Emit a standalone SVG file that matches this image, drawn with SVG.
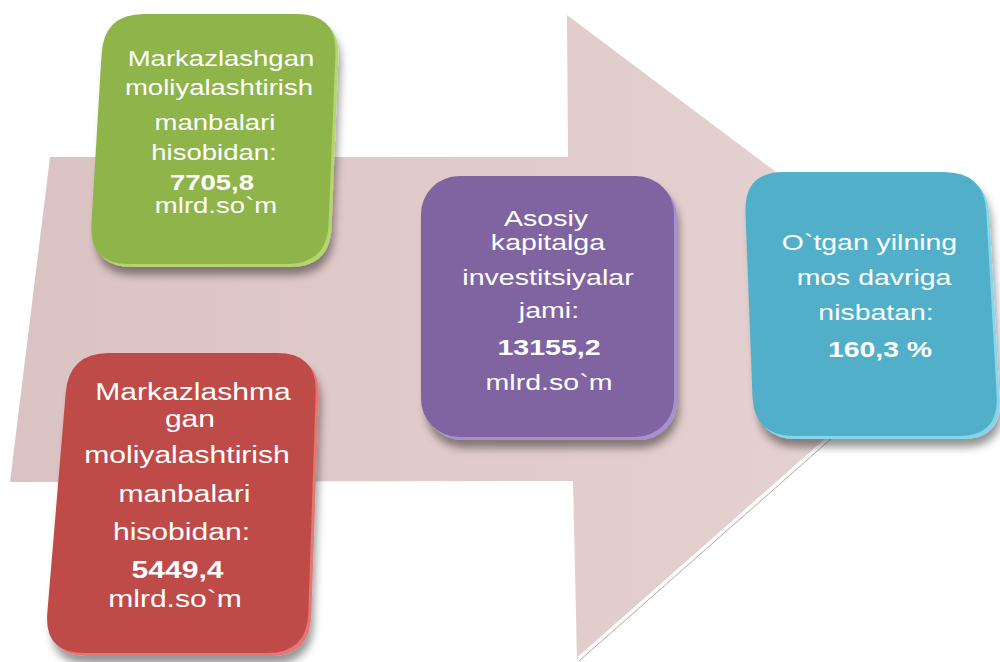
<svg xmlns="http://www.w3.org/2000/svg" width="1000" height="662" viewBox="0 0 1000 662">
  <defs>
    <linearGradient id="arrowGrad" x1="0" y1="0" x2="1" y2="0">
      <stop offset="0" stop-color="#dcc3c3"/>
      <stop offset="1" stop-color="#e6d3d3"/>
    </linearGradient>
    <filter id="shadow" x="-20%" y="-20%" width="140%" height="140%">
      <feDropShadow dx="2" dy="8" stdDeviation="4" flood-color="#000" flood-opacity="0.42"/>
    </filter>
    <path id="greenShape" d="M145,15 L298,15 Q338,15 336.4,55 L329.6,225 Q328,265 288,265 L130,265 Q90,265 92.4,225 L102.6,55 Q105,15 145,15 Z"/>
    <path id="redShape" d="M110,354 L278,354 Q318,354 316.7,394 L309.3,614 Q308,654 268,654 L85,654 Q45,654 48.3,614 L66.7,394 Q70,354 110,354 Z"/>
    <rect id="purpleShape" x="422" y="177" width="253" height="261" rx="38" ry="38"/>
    <path id="cyanShape" d="M785,173 L945,173 Q985,173 987.3,213 L997.7,397 Q1000,437 960,437 L795,437 Q755,437 753.5,397 L746.5,213 Q745,173 785,173 Z"/>
  </defs>
  <style>
    .t { font-family: "Liberation Sans", Arial, sans-serif; fill: #ffffff; text-anchor: middle; }
    .b { font-weight: bold; }
    .g { font-size: 21.5px; }
    .r { font-size: 23.5px; }
    .p { font-size: 22.3px; }
    .c { font-size: 22.2px; }
  </style>

  <g id="background-arrow">
    <polygon points="50,157 568,157 567,15 965,314 577,660 573,481 10,482" fill="url(#arrowGrad)"/>
    <line x1="578" y1="658" x2="830" y2="436" stroke="#ffffff" stroke-width="2"/>
    <line x1="579" y1="661" x2="832" y2="438" stroke="#b9a3a3" stroke-width="1"/>
  </g>

  <g id="connectors"></g>

  <g id="node-green">
    <use href="#greenShape" fill="#b4d66c" filter="url(#shadow)" transform="translate(2,2)"/>
    <use href="#greenShape" fill="#8eb44a" transform="translate(-1,-1)"/>
    <text class="t g" x="221" y="66" transform="translate(221,0) scale(1.28,1) translate(-221,0)">Markazlashgan</text>
    <text class="t g" x="219" y="95" transform="translate(219,0) scale(1.28,1) translate(-219,0)">moliyalashtirish</text>
    <text class="t g" x="215" y="130" transform="translate(215,0) scale(1.28,1) translate(-215,0)">manbalari</text>
    <text class="t g" x="214" y="160" transform="translate(214,0) scale(1.28,1) translate(-214,0)">hisobidan:</text>
    <text class="t g b" x="212" y="190" transform="translate(212,0) scale(1.28,1) translate(-212,0)">7705,8</text>
    <text class="t g" x="216" y="213" transform="translate(216,0) scale(1.28,1) translate(-216,0)">mlrd.so`m</text>
  </g>

  <g id="node-red">
    <use href="#redShape" fill="#e27773" filter="url(#shadow)" transform="translate(2,2)"/>
    <use href="#redShape" fill="#be4b48" transform="translate(-1,-1)"/>
    <text class="t r" x="193" y="400" transform="translate(193,0) scale(1.28,1) translate(-193,0)">Markazlashma</text>
    <text class="t r" x="190" y="427" transform="translate(190,0) scale(1.28,1) translate(-190,0)">gan</text>
    <text class="t r" x="187" y="463" transform="translate(187,0) scale(1.28,1) translate(-187,0)">moliyalashtirish</text>
    <text class="t r" x="184.5" y="502" transform="translate(184.5,0) scale(1.28,1) translate(-184.5,0)">manbalari</text>
    <text class="t r" x="181.5" y="540" transform="translate(181.5,0) scale(1.28,1) translate(-181.5,0)">hisobidan:</text>
    <text class="t r b" x="177.5" y="578" transform="translate(177.5,0) scale(1.28,1) translate(-177.5,0)">5449,4</text>
    <text class="t r" x="175" y="607" transform="translate(175,0) scale(1.28,1) translate(-175,0)">mlrd.so`m</text>
  </g>

  <g id="node-purple">
    <use href="#purpleShape" fill="#a890d0" filter="url(#shadow)" transform="translate(2,2)"/>
    <use href="#purpleShape" fill="#8064a2" transform="translate(-1,-1)"/>
    <text class="t p" x="546" y="226" transform="translate(546,0) scale(1.28,1) translate(-546,0)">Asosiy</text>
    <text class="t p" x="548" y="250" transform="translate(548,0) scale(1.28,1) translate(-548,0)">kapitalga</text>
    <text class="t p" x="548" y="285" transform="translate(548,0) scale(1.28,1) translate(-548,0)">investitsiyalar</text>
    <text class="t p" x="549" y="318" transform="translate(549,0) scale(1.28,1) translate(-549,0)">jami:</text>
    <text class="t p b" x="549" y="355" transform="translate(549,0) scale(1.28,1) translate(-549,0)">13155,2</text>
    <text class="t p" x="549" y="390" transform="translate(549,0) scale(1.28,1) translate(-549,0)">mlrd.so`m</text>
  </g>

  <g id="node-cyan">
    <use href="#cyanShape" fill="#84d6ec" filter="url(#shadow)" transform="translate(2,2)"/>
    <use href="#cyanShape" fill="#52afc9" transform="translate(-1,-1)"/>
    <text class="t c" x="869.5" y="250" transform="translate(869.5,0) scale(1.28,1) translate(-869.5,0)">O`tgan yilning</text>
    <text class="t c" x="874" y="285" transform="translate(874,0) scale(1.28,1) translate(-874,0)">mos davriga</text>
    <text class="t c" x="876" y="320" transform="translate(876,0) scale(1.28,1) translate(-876,0)">nisbatan:</text>
    <text class="t c b" x="880" y="357" transform="translate(880,0) scale(1.28,1) translate(-880,0)">160,3 %</text>
  </g>
</svg>
